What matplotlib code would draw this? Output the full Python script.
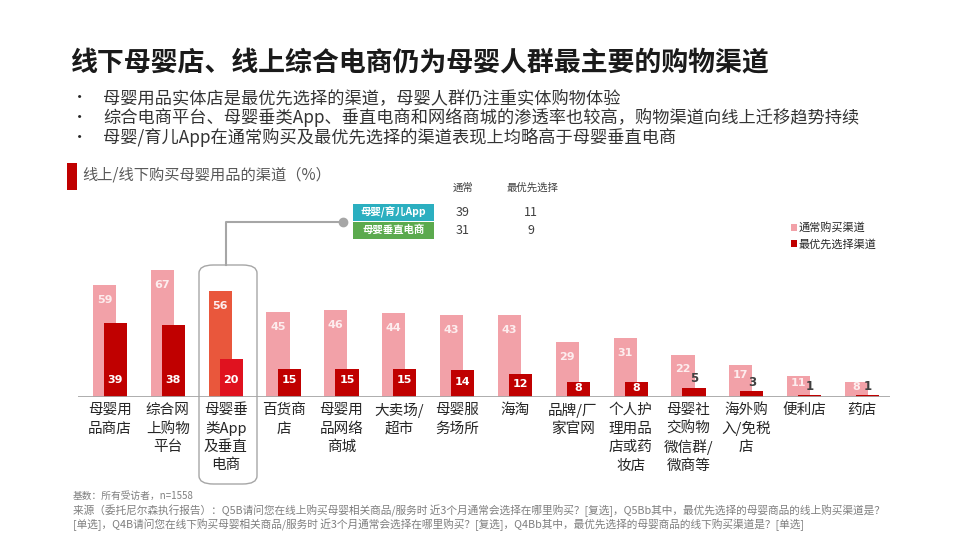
import matplotlib
matplotlib.use("Agg")
import matplotlib.pyplot as plt
from matplotlib.patches import FancyBboxPatch, Rectangle
import numpy as np

plt.rcParams['font.family'] = ['Noto Sans CJK SC', 'DejaVu Sans']

categories = ["母婴用\n品商店", "综合网\n上购物\n平台", "母婴垂\n类App\n及垂直\n电商", "百货商\n店",
              "母婴用\n品网络\n商城", "大卖场/\n超市", "母婴服\n务场所", "海淘", "品牌/厂\n家官网",
              "个人护\n理用品\n店或药\n妆店", "母婴社\n交购物\n微信群/\n微商等", "海外购\n入/免税\n店",
              "便利店", "药店"]
usual = [59, 67, 56, 45, 46, 44, 43, 43, 29, 31, 22, 17, 11, 8]
first = [39, 38, 20, 15, 15, 15, 14, 12, 8, 8, 5, 3, 1, 1]
highlight = 2

inset_rows = ["母婴/育儿App", "母婴垂直电商"]
inset_usual = [39, 31]
inset_first = [11, 9]
inset_cols = ["通常", "最优先选择"]

legend_labels = ["通常购买渠道", "最优先选择渠道"]

title = "线下母婴店、线上综合电商仍为母婴人群最主要的购物渠道"
bullets = ["母婴用品实体店是最优先选择的渠道，母婴人群仍注重实体购物体验",
           "综合电商平台、母婴垂类App、垂直电商和网络商城的渗透率也较高，购物渠道向线上迁移趋势持续",
           "母婴/育儿App在通常购买及最优先选择的渠道表现上均略高于母婴垂直电商"]
subtitle = "线上/线下购买母婴用品的渠道（%）"
footer = ["基数：所有受访者，n=1558",
          "来源（委托尼尔森执行报告）：Q5B请问您在线上购买母婴相关商品/服务时 近3个月通常会选择在哪里购买？[复选]，Q5Bb其中，最优先选择的母婴商品的线上购买渠道是？",
          "[单选]，Q4B请问您在线下购买母婴相关商品/服务时 近3个月通常会选择在哪里购买？[复选]，Q4Bb其中，最优先选择的母婴商品的线下购买渠道是？[单选]"]

W, H = 960, 540
fig = plt.figure(figsize=(9.6, 5.4), dpi=100)
fig.patch.set_facecolor("white")

def fx(x):
    return x / W

def fy(y):
    return 1 - y / H

PINK = "#F2A1A8"
DARK = "#C00000"
HPINK = "#E9573C"
HDARK = "#E0121F"

# axes geometry
c0, step = 110.0, 57.85
ax_l, ax_r = 78, 890
base_y, top_y = 397, 250
ppu = 1.9
ax = fig.add_axes([fx(ax_l), fy(base_y), (ax_r - ax_l) / W, (base_y - top_y) / H])
ax.set_xlim((ax_l - c0) / step, (ax_r - c0) / step)
ax.set_ylim(0, (base_y - top_y) / ppu)
ax.axis("off")
ax.axhline(0, color="#A6A6A6", lw=2.0, zorder=5)

x = np.arange(len(categories))
bw = 0.40
off = 0.096
pc = [HPINK if i == highlight else PINK for i in x]
dc = [HDARK if i == highlight else DARK for i in x]
ax.bar(x - off, usual, width=bw, color=pc, zorder=2)
ax.bar(x + off, first, width=bw, color=dc, zorder=3)

for i in x:
    v = usual[i]
    yl = max(v - 7.9, v * 0.67)
    ax.text(i - off, yl, str(v), ha="center", va="center", color="#FDEDEE",
            fontsize=8, fontweight="bold", family="DejaVu Sans", zorder=6)
    f = first[i]
    if f >= 8:
        ax.text(i + off, min(9, f * 0.58), str(f), ha="center", va="center", color="white",
                fontsize=8, fontweight="bold", family="DejaVu Sans", zorder=6)
    else:
        ax.text(i + off, f + 1.3, str(f), ha="center", va="bottom", color="#404040",
                fontsize=8.5, fontweight="bold", family="DejaVu Sans", zorder=6)

# category labels
for i, lab in enumerate(categories):
    cx = c0 + step * i
    for j, line in enumerate(lab.split("\n")):
        fig.text(fx(cx), fy(410 + 18.5 * j), line, ha="center", va="center",
                 fontsize=10.5, color="#262626")

# highlight rounded box
box = FancyBboxPatch((fx(199), fy(484)), fx(257) - fx(199), fy(265) - fy(484),
                     boxstyle="round,pad=0,rounding_size=0.015", transform=fig.transFigure,
                     fill=False, edgecolor="#A6A6A6", lw=1.0)
fig.add_artist(box)
fig.add_artist(plt.Line2D([fx(226), fx(226), fx(342)], [fy(265), fy(222), fy(222)],
                          transform=fig.transFigure, color="#A6A6A6", lw=1.5))
fig.add_artist(plt.Line2D([fx(343)], [fy(222)], transform=fig.transFigure, marker="o",
                          markersize=6, color="#A6A6A6", lw=0))

# inset table
row_cols = ["#2BAFC0", "#5BAA4E"]
row_y = [212.5, 230]
for k, lab in enumerate(inset_rows):
    r = Rectangle((fx(353), fy(row_y[k] + 8.5)), fx(434) - fx(353), 17 / H,
                  transform=fig.transFigure, color=row_cols[k], lw=0)
    fig.add_artist(r)
    fig.text(fx(393.5), fy(row_y[k]), lab, ha="center", va="center", color="white",
             fontsize=7.5, fontweight="bold")
    fig.text(fx(463), fy(row_y[k]), str(inset_usual[k]), ha="center", va="center",
             color="#404040", fontsize=9)
    fig.text(fx(531), fy(row_y[k]), str(inset_first[k]), ha="center", va="center",
             color="#404040", fontsize=9)
fig.text(fx(463), fy(188), inset_cols[0], ha="center", va="center", color="#404040", fontsize=7.5)
fig.text(fx(532), fy(188), inset_cols[1], ha="center", va="center", color="#404040", fontsize=7.5)

# legend
for k, (lab, col) in enumerate(zip(legend_labels, [PINK, DARK])):
    yy = 227 + 17 * k
    fig.add_artist(Rectangle((fx(791), fy(yy + 3.5)), 6 / W, 7 / H, transform=fig.transFigure,
                             color=col, lw=0))
    fig.text(fx(799), fy(yy + 0.5), lab, ha="left", va="center", color="#262626", fontsize=8)

# title & bullets
fig.text(fx(70), fy(62), title, ha="left", va="center", fontsize=19.4, fontweight="bold",
         color="#1A1A1A")
for k, b in enumerate(bullets):
    yy = 98 + 19.5 * k
    fig.text(fx(72), fy(yy), "•", ha="left", va="center", fontsize=11, color="#262626")
    fig.text(fx(103), fy(yy), b, ha="left", va="center", fontsize=12.4, color="#333333")

# subtitle
fig.add_artist(Rectangle((fx(67), fy(190)), 10 / W, 27 / H, transform=fig.transFigure,
                         color="#C00000", lw=0))
fig.text(fx(82), fy(175), subtitle, ha="left", va="center", fontsize=11, color="#595959")

# footer
for k, t in enumerate(footer):
    fig.text(fx(73), fy(496 + 14.5 * k), t, ha="left", va="center",
             fontsize=7 if k == 0 else 7.7, color="#7F7F7F")

fig.savefig("out.png", dpi=100)
